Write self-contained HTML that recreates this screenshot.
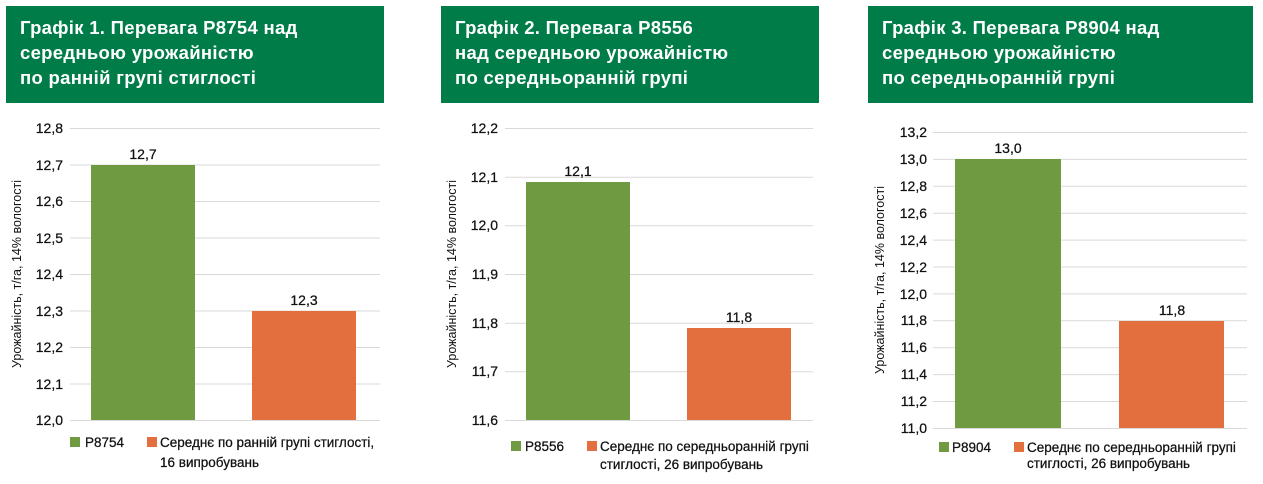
<!DOCTYPE html>
<html><head><meta charset="utf-8"><style>
html,body{margin:0;padding:0;background:#fff;}
body{width:1263px;height:484px;position:relative;overflow:hidden;font-family:"Liberation Sans","DejaVu Sans",sans-serif;}
.h{position:absolute;top:6px;height:97px;background:#007c48;color:#fff;font-weight:bold;font-size:18.5px;line-height:25px;box-sizing:border-box;padding:9px 0 0 14px;letter-spacing:0.3px}
svg{position:absolute;left:0;top:0}
text{font-family:"Liberation Sans","DejaVu Sans",sans-serif;fill:#111}
</style></head><body>
<div class="h" style="left:6px;width:378px">Графік 1. Перевага P8754 над<br>середньою урожайністю<br>по ранній групі стиглості</div>
<div class="h" style="left:441px;width:378px">Графік 2. Перевага P8556<br>над середньою урожайністю<br>по середньоранній групі</div>
<div class="h" style="left:868px;width:385px">Графік 3. Перевага P8904 над<br>середньою урожайністю<br>по середньоранній групі</div>
<svg width="1263" height="484" viewBox="0 0 1263 484">
<g stroke="#d9d9d9" stroke-width="1">
<line x1="70" x2="380" y1="128.5" y2="128.5"/><line x1="70" x2="380" y1="165" y2="165"/><line x1="70" x2="380" y1="201.5" y2="201.5"/><line x1="70" x2="380" y1="238" y2="238"/><line x1="70" x2="380" y1="274.5" y2="274.5"/><line x1="70" x2="380" y1="311" y2="311"/><line x1="70" x2="380" y1="347.5" y2="347.5"/><line x1="70" x2="380" y1="384" y2="384"/><line x1="70" x2="380" y1="420.5" y2="420.5"/>
<line x1="505" x2="813" y1="128.5" y2="128.5"/><line x1="505" x2="813" y1="177.2" y2="177.2"/><line x1="505" x2="813" y1="225.8" y2="225.8"/><line x1="505" x2="813" y1="274.5" y2="274.5"/><line x1="505" x2="813" y1="323.2" y2="323.2"/><line x1="505" x2="813" y1="371.8" y2="371.8"/><line x1="505" x2="813" y1="420.5" y2="420.5"/>
<line x1="933" x2="1247" y1="132.5" y2="132.5"/><line x1="933" x2="1247" y1="159.4" y2="159.4"/><line x1="933" x2="1247" y1="186.3" y2="186.3"/><line x1="933" x2="1247" y1="213.2" y2="213.2"/><line x1="933" x2="1247" y1="240.1" y2="240.1"/><line x1="933" x2="1247" y1="267" y2="267"/><line x1="933" x2="1247" y1="293.9" y2="293.9"/><line x1="933" x2="1247" y1="320.8" y2="320.8"/><line x1="933" x2="1247" y1="347.7" y2="347.7"/><line x1="933" x2="1247" y1="374.6" y2="374.6"/><line x1="933" x2="1247" y1="401.5" y2="401.5"/><line x1="933" x2="1247" y1="428.5" y2="428.5"/>
</g>
<g fill="#6f9a42"><rect x="91" y="165" width="104" height="255"/><rect x="526" y="182" width="104" height="238"/><rect x="955" y="159" width="106" height="269"/></g>
<g fill="#e36e3e"><rect x="252" y="311" width="104" height="109"/><rect x="687" y="328" width="104" height="92"/><rect x="1119" y="321" width="105" height="107"/></g>
<g font-size="14" text-anchor="end" stroke="#111" stroke-width="0.25">
<text x="63" y="133">12,8</text><text x="63" y="170">12,7</text><text x="63" y="206">12,6</text><text x="63" y="243">12,5</text><text x="63" y="279">12,4</text><text x="63" y="316">12,3</text><text x="63" y="352">12,2</text><text x="63" y="389">12,1</text><text x="63" y="425">12,0</text>
<text x="498" y="133">12,2</text><text x="498" y="182">12,1</text><text x="498" y="230">12,0</text><text x="498" y="279">11,9</text><text x="498" y="328">11,8</text><text x="498" y="376">11,7</text><text x="498" y="425">11,6</text>
<text x="927" y="137">13,2</text><text x="927" y="164">13,0</text><text x="927" y="191">12,8</text><text x="927" y="218">12,6</text><text x="927" y="245">12,4</text><text x="927" y="272">12,2</text><text x="927" y="299">12,0</text><text x="927" y="325">11,8</text><text x="927" y="352">11,6</text><text x="927" y="379">11,4</text><text x="927" y="406">11,2</text><text x="927" y="433">11,0</text>
</g>
<g font-size="14" text-anchor="middle" stroke="#111" stroke-width="0.25">
<text x="143" y="159">12,7</text><text x="304" y="305">12,3</text>
<text x="578" y="176">12,1</text><text x="739" y="322">11,8</text>
<text x="1008" y="153">13,0</text><text x="1172" y="315">11,8</text>
</g>
<g font-size="12.5" text-anchor="middle">
<text transform="translate(21,274) rotate(-90)">Урожайність, т/га, 14% вологості</text>
<text transform="translate(456,274) rotate(-90)">Урожайність, т/га, 14% вологості</text>
<text transform="translate(884,280) rotate(-90)">Урожайність, т/га, 14% вологості</text>
</g>
<g font-size="13.5" stroke="#111" stroke-width="0.25">
<rect x="70" y="437" width="10" height="10" fill="#6f9a42" stroke="none"/><text x="85" y="447">P8754</text>
<rect x="147" y="437" width="10" height="10" fill="#e36e3e" stroke="none"/><text x="160" y="447">Середнє по ранній групі стиглості,</text><text x="160" y="467">16 випробувань</text>
<rect x="511" y="441" width="10" height="10" fill="#6f9a42" stroke="none"/><text x="525" y="451">P8556</text>
<rect x="587" y="441" width="10" height="10" fill="#e36e3e" stroke="none"/><text x="600" y="451">Середнє по середньоранній групі</text><text x="600" y="469">стиглості, 26 випробувань</text>
<rect x="939" y="442" width="10" height="10" fill="#6f9a42" stroke="none"/><text x="952" y="452">P8904</text>
<rect x="1014" y="442" width="10" height="10" fill="#e36e3e" stroke="none"/><text x="1027" y="452">Середнє по середньоранній групі</text><text x="1027" y="468">стиглості, 26 випробувань</text>
</g>
</svg>
</body></html>
